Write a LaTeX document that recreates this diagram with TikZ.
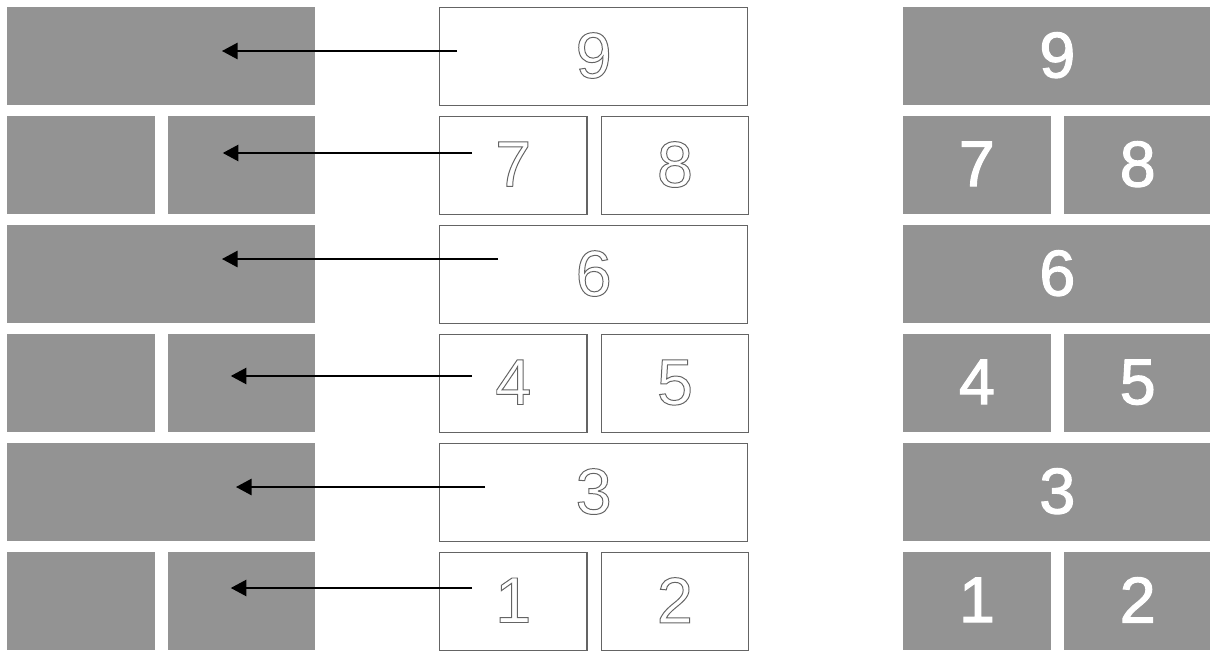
\documentclass[tikz,border=0pt]{standalone}
\usepackage{fontspec}
\setmainfont{Liberation Sans}
\usetikzlibrary{arrows.meta, positioning}

\definecolor{blockgray}{RGB}{147,147,147}
\definecolor{edgegray}{RGB}{100,100,100}

% stroked (outline) digits
\newcommand{\outlinedigit}[1]{%
  \raisebox{2pt}{\special{pdf:literal q 1 Tr 0.7 w}#1\special{pdf:literal Q}}}
% filled and stroked (slightly heavier) digits
\newcommand{\painteddigit}[1]{%
  \raisebox{2pt}{\special{pdf:literal q 2 Tr 0.8 w}#1\special{pdf:literal Q}}}

\begin{document}
\begin{tikzpicture}[
    x=0.025cm, y=-0.025cm,
    font=\fontsize{46}{50}\selectfont,
    wide/.style={
        anchor=north west, inner sep=0pt,
        minimum width=7.7cm,
        minimum height=2.45cm
    },
    half/.style={
        anchor=north west, inner sep=0pt,
        minimum width=3.68cm,
        minimum height=2.45cm
    },
    solid block/.style={fill=blockgray, text=white},
    stencil/.style={draw=edgegray, line width=0.9pt, text=edgegray},
    arrow/.style={-{Triangle[length=3.9mm, width=4.1mm]}, line width=1pt}
]
\useasboundingbox (0,0) rectangle (1210,651);

% ===== LEFT COLUMN (RESULT) =====
\node[wide, solid block] (l9) at (7,7) {};
\node[half, solid block] (l7) at (7,116) {};
\node[half, solid block, right=3.25mm of l7.north east, anchor=north west] (l8) {};
\node[wide, solid block] (l6) at (7,225) {};
\node[half, solid block] (l4) at (7,334) {};
\node[half, solid block, right=3.25mm of l4.north east, anchor=north west] (l5) {};
\node[wide, solid block] (l3) at (7,443) {};
\node[half, solid block] (l1) at (7,552) {};
\node[half, solid block, right=3.25mm of l1.north east, anchor=north west] (l2) {};

% ===== MIDDLE COLUMN (STENCIL) =====
\node[wide, stencil] (m9) at (439,7) {\outlinedigit{9}};
\node[half, stencil] (m7) at (439,116) {\outlinedigit{7}};
\node[half, stencil, right=3.3mm of m7.north east, anchor=north west] (m8) {\outlinedigit{8}};
\node[wide, stencil] (m6) at (439,225) {\outlinedigit{6}};
\node[half, stencil] (m4) at (439,334) {\outlinedigit{4}};
\node[half, stencil, right=3.3mm of m4.north east, anchor=north west] (m5) {\outlinedigit{5}};
\node[wide, stencil] (m3) at (439,443) {\outlinedigit{3}};
\node[half, stencil] (m1) at (439,552) {\outlinedigit{1}};
\node[half, stencil, right=3.3mm of m1.north east, anchor=north west] (m2) {\outlinedigit{2}};

% ===== RIGHT COLUMN (PAINTED) =====
\node[wide, solid block] (r9) at (903,7) {\painteddigit{9}};
\node[half, solid block] (r7) at (903,116) {\painteddigit{7}};
\node[half, solid block, right=3.25mm of r7.north east, anchor=north west] (r8) {\painteddigit{8}};
\node[wide, solid block] (r6) at (903,225) {\painteddigit{6}};
\node[half, solid block] (r4) at (903,334) {\painteddigit{4}};
\node[half, solid block, right=3.25mm of r4.north east, anchor=north west] (r5) {\painteddigit{5}};
\node[wide, solid block] (r3) at (903,443) {\painteddigit{3}};
\node[half, solid block] (r1) at (903,552) {\painteddigit{1}};
\node[half, solid block, right=3.25mm of r1.north east, anchor=north west] (r2) {\painteddigit{2}};

% ===== ARROWS (STENCIL -> RESULT) =====
\draw[arrow] ([shift={(18,44)}]m9.north west) -- ([shift={(215,44)}]l9.north west);
\draw[arrow] ([shift={(33,37)}]m7.north west) -- ([shift={(55,37)}]l8.north west);
\draw[arrow] ([shift={(59,34)}]m6.north west) -- ([shift={(215,34)}]l6.north west);
\draw[arrow] ([shift={(33,42)}]m4.north west) -- ([shift={(63,42)}]l5.north west);
\draw[arrow] ([shift={(46,44)}]m3.north west) -- ([shift={(229,44)}]l3.north west);
\draw[arrow] ([shift={(33,36)}]m1.north west) -- ([shift={(63,36)}]l2.north west);

\end{tikzpicture}
\end{document}
